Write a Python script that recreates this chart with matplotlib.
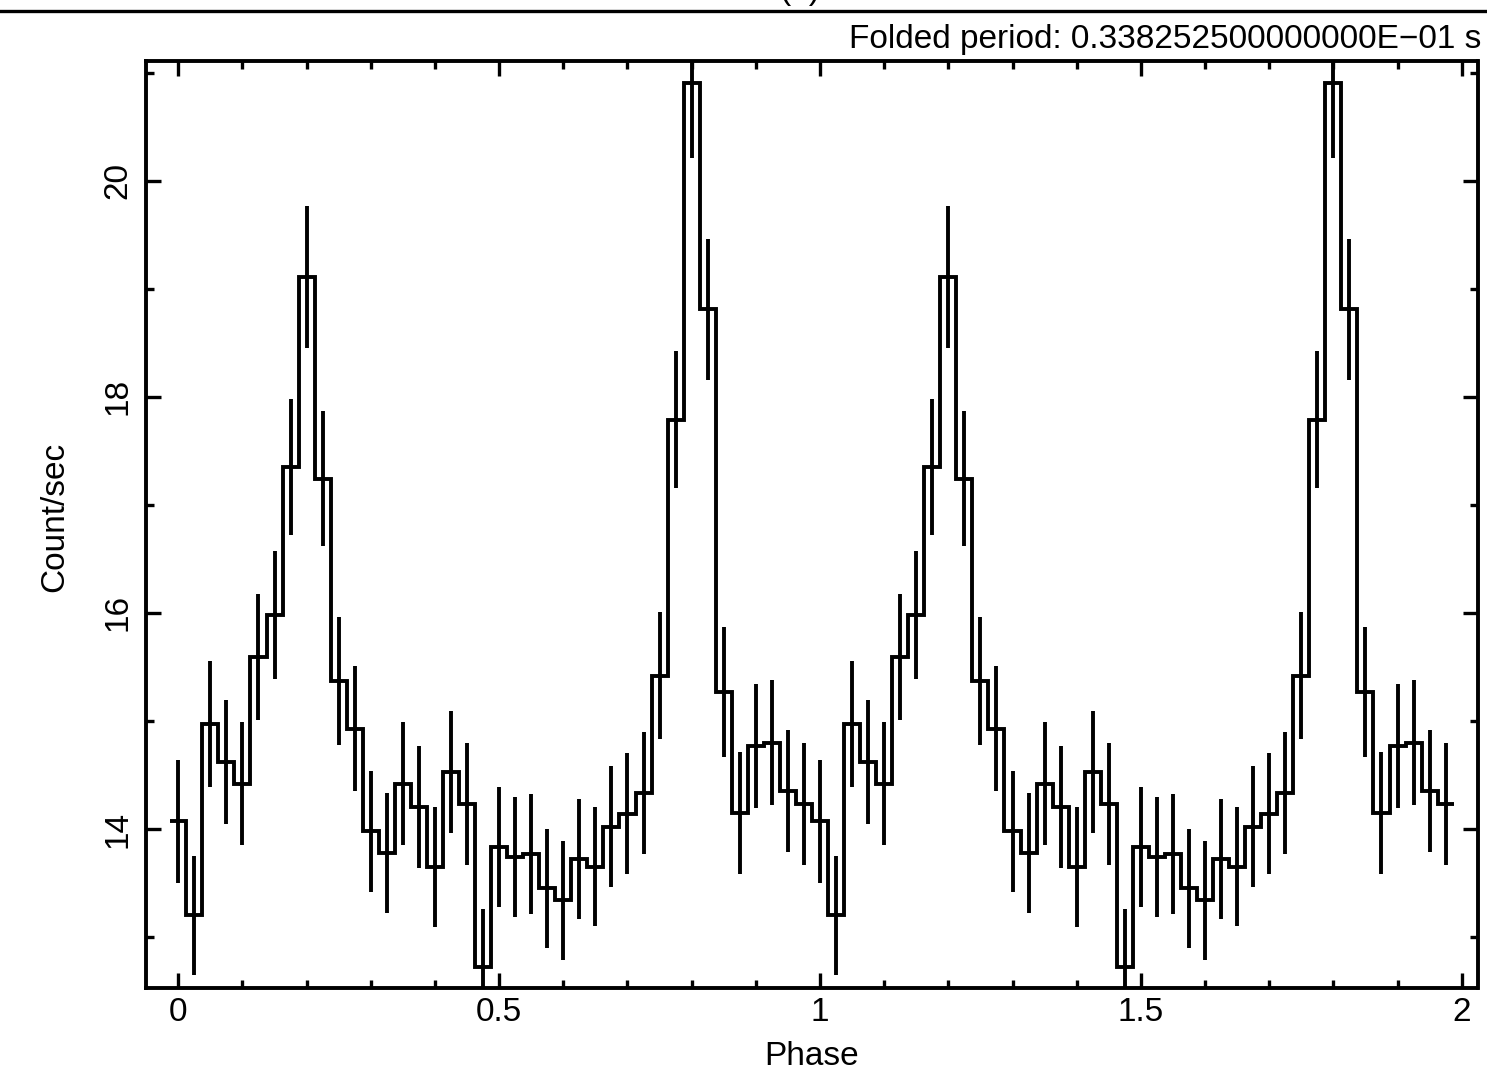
import numpy as np
import matplotlib
matplotlib.use("Agg")
import matplotlib.pyplot as plt
from matplotlib.ticker import MultipleLocator, FuncFormatter
from matplotlib.lines import Line2D

plt.rcParams['font.family'] = ['Liberation Sans', 'DejaVu Sans']

# ---- data (two folded cycles, 40 bins per cycle) ----
phase = [i * 0.025 for i in range(80)]
rate = [14.07, 13.20, 14.97, 14.62, 14.42, 15.59, 15.98, 17.35, 19.11, 17.24,
        15.37, 14.93, 13.98, 13.78, 14.42, 14.20, 13.65, 14.53, 14.23, 12.72,
        13.83, 13.74, 13.77, 13.45, 13.34, 13.72, 13.65, 14.02, 14.14, 14.33,
        15.42, 17.79, 20.90, 18.81, 15.27, 14.15, 14.77, 14.80, 14.35, 14.23,
        14.07, 13.20, 14.97, 14.62, 14.42, 15.59, 15.98, 17.35, 19.11, 17.24,
        15.37, 14.93, 13.98, 13.78, 14.42, 14.20, 13.65, 14.53, 14.23, 12.72,
        13.83, 13.74, 13.77, 13.45, 13.34, 13.72, 13.65, 14.02, 14.14, 14.33,
        15.42, 17.79, 20.90, 18.81, 15.27, 14.15, 14.77, 14.80, 14.35, 14.23]
error = [0.565, 0.55, 0.585, 0.575, 0.57, 0.585, 0.59, 0.63, 0.655, 0.625,
         0.59, 0.58, 0.56, 0.555, 0.57, 0.565, 0.555, 0.565, 0.565, 0.54,
         0.555, 0.555, 0.555, 0.55, 0.55, 0.555, 0.55, 0.56, 0.56, 0.565,
         0.59, 0.635, 0.69, 0.65, 0.60, 0.565, 0.575, 0.575, 0.565, 0.565,
         0.565, 0.55, 0.585, 0.575, 0.57, 0.585, 0.59, 0.63, 0.655, 0.625,
         0.59, 0.58, 0.56, 0.555, 0.57, 0.565, 0.555, 0.565, 0.565, 0.54,
         0.555, 0.555, 0.555, 0.55, 0.55, 0.555, 0.55, 0.56, 0.56, 0.565,
         0.59, 0.635, 0.69, 0.65, 0.60, 0.565, 0.575, 0.575, 0.565, 0.565]
bin_width = 0.025
period_text = "Folded period: 0.338252500000000E\u221201 s"

W, H = 1487, 1072
fig = plt.figure(figsize=(W / 100, H / 100), dpi=100)
ax = fig.add_axes([146 / W, 1 - 988.3 / H, (1477.5 - 146) / W, (988.3 - 61) / H])

lw = 2.8
edges = np.concatenate([[phase[0] - bin_width / 2], np.array(phase) + bin_width / 2])
ax.stairs(rate, edges, baseline=None, color='black', linewidth=lw)
ax.errorbar(phase, rate, yerr=error, fmt='none', ecolor='black', elinewidth=lw, capsize=0)

ax.set_xlim(-0.0503, 2.0246)
ax.set_ylim(12.526, 21.108)

ax.xaxis.set_major_locator(MultipleLocator(0.5))
ax.xaxis.set_minor_locator(MultipleLocator(0.1))
ax.yaxis.set_major_locator(MultipleLocator(2))
ax.yaxis.set_minor_locator(MultipleLocator(1))
ax.xaxis.set_major_formatter(FuncFormatter(lambda v, p: f"{v:g}"))
ax.yaxis.set_major_formatter(FuncFormatter(lambda v, p: f"{v:g}"))

fs = 24
ax.tick_params(which='both', direction='in', top=True, right=True, width=2.4, color='black')
ax.tick_params(which='major', length=10.8)
ax.tick_params(which='minor', length=5.5)
ax.tick_params(axis='x', labelsize=fs, pad=6)
ax.tick_params(axis='y', labelsize=fs, pad=9)
for lab in ax.get_yticklabels():
    lab.set_rotation(90)
    lab.set_va('center')
for s in ax.spines.values():
    s.set_linewidth(2.8)

fig.text(63 / W, 1 - 517 / H, "Count/sec", rotation=90, rotation_mode='anchor',
         ha='center', va='baseline', fontsize=fs)
fig.text(812 / W, 1 - 1065 / H, "Phase", ha='center', va='baseline', fontsize=fs)
fig.text(1481 / W, 1 - 48 / H, period_text, ha='right', va='baseline', fontsize=fs)
fig.text(800 / W, 1 + 1 / H, "(a)", ha='center', va='baseline', fontsize=fs)
fig.add_artist(Line2D([0, 1], [1 - 10.7 / H, 1 - 10.7 / H], transform=fig.transFigure,
                      color='black', linewidth=2.4))

fig.savefig("out.png", dpi=100, facecolor='white')
